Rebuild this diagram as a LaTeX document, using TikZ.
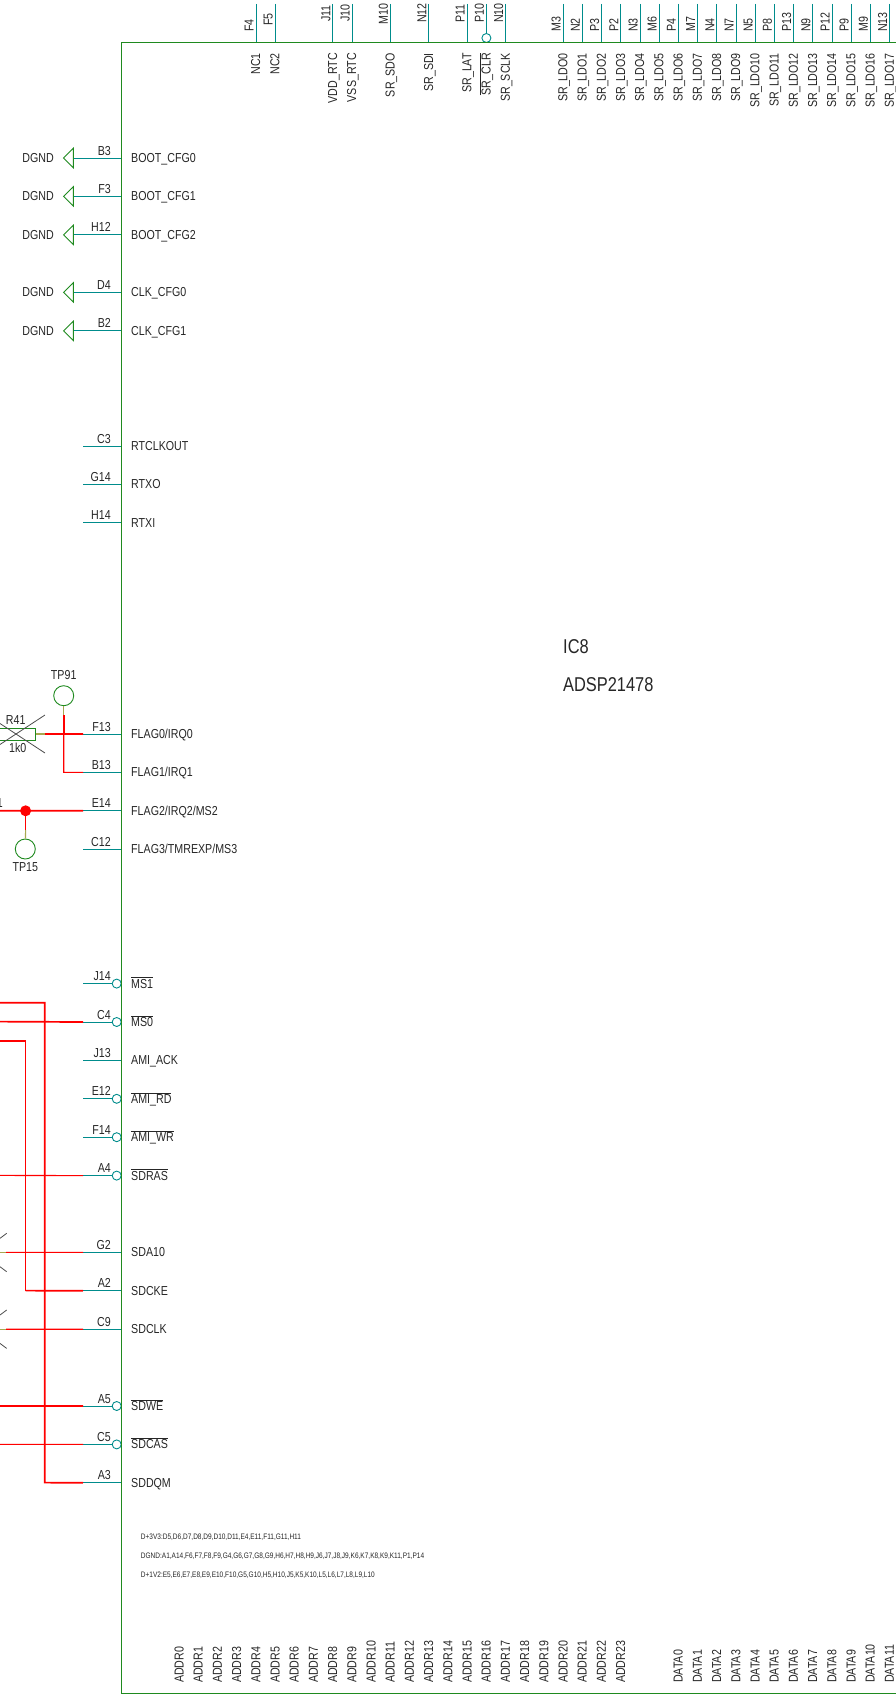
\documentclass[tikz,border=0pt]{standalone}
\usepackage{fontspec}
\setmainfont[FakeStretch=0.82]{Liberation Sans}
\usepackage{xcolor}
\usetikzlibrary{calc}
\definecolor{boxgreen}{HTML}{1F8A1F}
\definecolor{pinteal}{HTML}{008C8C}
\definecolor{wirered}{HTML}{FF0000}
\definecolor{wireolive}{HTML}{A8A850}
\definecolor{txtgrey}{HTML}{262626}
\tikzset{
	pinstub/.style={pinteal,line width=1pt},
	bubble/.style={draw=pinteal,line width=0.9pt,fill=white},
	redthick/.style={wirered,line width=1.7pt},
	redthin/.style={wirered,line width=1.1pt},
	olivewire/.style={wireolive,line width=1.1pt},
	crossout/.style={black!70,line width=0.8pt},
	tiptext/.style={inner sep=0pt,text=txtgrey,font=\fontsize{13}{15}\selectfont},
	notetext/.style={inner sep=0pt,text=txtgrey,anchor=base west,font=\fontsize{7.95}{9}\selectfont},
	chiptext/.style={inner sep=0pt,text=txtgrey,anchor=base west,font=\fontsize{20}{24}\selectfont},
	testpad/.style={draw=boxgreen,line width=0.9pt,fill=white,circle,minimum size=20pt,inner sep=0pt},
	gndflag/.style={draw=boxgreen,line width=0.9pt,line join=miter},
}
\begin{document}
\begin{tikzpicture}[x=1pt,y=-1pt]
	\useasboundingbox (0,0) rectangle (896,1694);
	\clip (0,0) rectangle (896,1694);
	% left side, plain pins
	\foreach \k/\pad/\pinname in {0/B3/BOOT\_CFG0,2/F3/BOOT\_CFG1,4/H12/BOOT\_CFG2,7/D4/CLK\_CFG0,9/B2/CLK\_CFG1,15/C3/RTCLKOUT,17/G14/RTXO,19/H14/RTXI,30/F13/{FLAG0/IRQ0},32/B13/{FLAG1/IRQ1},34/E14/{FLAG2/IRQ2/MS2},36/C12/{FLAG3/TMREXP/MS3},47/J13/AMI\_ACK,57/G2/SDA10,59/A2/SDCKE,61/C9/SDCLK,69/A3/SDDQM}{
		\coordinate (edge\pad) at (121,158+19.2*\k);
		\coordinate (end\pad) at (83,158+19.2*\k);
		\draw[pinstub] (end\pad)--(edge\pad);
		\node[tiptext,anchor=base east] (pad\pad) at (111,155+19.2*\k) {\pad};
		\node[tiptext,anchor=base west] (name\pad) at (131,162.4+19.2*\k) {\pinname};
	}
	% left side, inverted pins
	\foreach \k/\pad/\pinname in {43/J14/MS1,45/C4/MS0,49/E12/AMI\_RD,51/F14/AMI\_WR,53/A4/SDRAS,65/A5/SDWE,67/C5/SDCAS}{
		\coordinate (edge\pad) at (112,158+19.2*\k);
		\coordinate (end\pad) at (83,158+19.2*\k);
		\draw[pinstub] (end\pad)--(edge\pad);
		\node[bubble,circle,minimum size=9pt,inner sep=0pt] (inv\pad) at (116.7,158+19.2*\k) {};
		\node[tiptext,anchor=base east] (pad\pad) at (111,155+19.2*\k) {\pad};
		\node[tiptext,anchor=base west] (name\pad) at (131,162.4+19.2*\k) {$\overline{\mbox{\pinname}}$};
	}
	% top side
	\foreach \k/\pad/\pinname/\padend in {0/F4/NC1/32,1/F5/NC2/26,4/J11/VDD\_RTC/22,5/J10/VSS\_RTC/22,7/M10/SR\_SDO/25,9/N12/SR\_SDI/23,11/P11/SR\_LAT/23,13/N10/SR\_SCLK/23,16/M3/SR\_LDO0/32,17/N2/SR\_LDO1/32,18/P3/SR\_LDO2/32,19/P2/SR\_LDO3/32,20/N3/SR\_LDO4/32,21/M6/SR\_LDO5/32,22/P4/SR\_LDO6/32,23/M7/SR\_LDO7/32,24/N4/SR\_LDO8/32,25/N7/SR\_LDO9/32,26/N5/SR\_LDO10/32,27/P8/SR\_LDO11/32,28/P13/SR\_LDO12/32,29/N9/SR\_LDO13/32,30/P12/SR\_LDO14/32,31/P9/SR\_LDO15/32,32/M9/SR\_LDO16/32,33/N13/SR\_LDO17/32}{
		\coordinate (edge\pad) at (256+19.2*\k,42);
		\coordinate (end\pad) at (256+19.2*\k,4);
		\draw[pinstub] (end\pad)--(edge\pad);
		\node[tiptext,rotate=90,anchor=base west] (pad\pad) at (253.5+19.2*\k,\padend) {\pad};
		\node[tiptext,rotate=90,anchor=base east] (name\pad) at (260.2+19.2*\k,53) {\pinname};
	}
	\coordinate (endP10) at (486.4,4);
	\coordinate (edgeP10) at (486.4,33);
	\draw[pinstub] (endP10)--(edgeP10);
	\node[bubble,circle,minimum size=9pt,inner sep=0pt] (invP10) at (486.4,38) {};
	\node[tiptext,rotate=90,anchor=base west] (padP10) at (483.9,23) {P10};
	\node[tiptext,rotate=90,anchor=base east] (nameP10) at (490.6,53) {$\overline{\mbox{SR\_CLR}}$};
	% bottom side
	\foreach \k/\txt in {0/ADDR0,1/ADDR1,2/ADDR2,3/ADDR3,4/ADDR4,5/ADDR5,6/ADDR6,7/ADDR7,8/ADDR8,9/ADDR9,10/ADDR10,11/ADDR11,12/ADDR12,13/ADDR13,14/ADDR14,15/ADDR15,16/ADDR16,17/ADDR17,18/ADDR18,19/ADDR19,20/ADDR20,21/ADDR21,22/ADDR22,23/ADDR23,26/DATA0,27/DATA1,28/DATA2,29/DATA3,30/DATA4,31/DATA5,32/DATA6,33/DATA7,34/DATA8,35/DATA9,36/DATA10,37/DATA11}{
		\coordinate (tick\txt) at (179.2+19.2*\k,1693);
		\coordinate (tickend\txt) at (179.2+19.2*\k,1700);
		\draw[pinstub] (tick\txt)--(tickend\txt);
		\node[tiptext,rotate=90,anchor=base west] (name\txt) at (183.5+19.2*\k,1683) {\txt};
	}
	% chip outline
	\coordinate (boxtr) at (900,42.5);
	\coordinate (boxtl) at (121.5,42.5);
	\coordinate (boxbl) at (121.5,1693);
	\coordinate (boxbr) at (900,1693);
	\draw[boxgreen,line width=1pt] (boxtr)--(boxtl)--(boxbl)--(boxbr);
	\node[chiptext] (ic) at (563,653) {IC8};
	\node[chiptext] (part) at (563,691) {ADSP21478};
	\node[notetext] (note3v3) at (140.7,1539) {D+3V3:D5,D6,D7,D8,D9,D10,D11,E4,E11,F11,G11,H11};
	\node[notetext] (notegnd) at (140.7,1558) {DGND:A1,A14,F6,F7,F8,F9,G4,G6,G7,G8,G9,H6,H7,H8,H9,J6,J7,J8,J9,K6,K7,K8,K9,K11,P1,P14};
	\node[notetext] (note1v2) at (140.7,1577) {D+1V2:E5,E6,E7,E8,E9,E10,F10,G5,G10,H5,H10,J5,K5,K10,L5,L6,L7,L8,L9,L10};
	% ground flags
	\foreach \pad in {B3,F3,H12,D4,B2}{
		\coordinate (flag\pad) at ($(end\pad)+(-9.7,0)$);
		\draw[pinstub] (end\pad)--(flag\pad);
		\draw[gndflag] ($(flag\pad)+(0,-9.7)$)--($(flag\pad)+(-9.7,0)$)--($(flag\pad)+(0,9.7)$)--cycle;
		\node[tiptext,anchor=base east] (gnd\pad) at ($(end\pad)+(-29,4.4)$) {DGND};
	}
	% test points and flag wires
	\node[testpad] (tp91) at (63.7,695.7) {};
	\node[tiptext] (tp91txt) at (63.7,675) {TP91};
	\node[testpad] (tp15) at (25.3,849) {};
	\node[tiptext] (tp15txt) at (25.3,867) {TP15};
	\coordinate (rend) at (35,734);
	\coordinate (wireF) at (45,734);
	\coordinate (stubTP91) at (63.7,715);
	\coordinate (crossF13) at (63.7,734);
	\coordinate (cornerB13) at (63.7,772.4);
	\coordinate (inE14) at (0,810.8);
	\coordinate (dotE14) at (25.6,810.8);
	\coordinate (stubTP15) at (25.6,830);
	\draw[olivewire] (rend)--(wireF);
	\draw[olivewire] (tp91)--(stubTP91);
	\draw[redthick] (wireF)--(endF13);
	\draw[redthick] (stubTP91)--(crossF13);
	\draw[redthin] (crossF13)--(cornerB13)--(endB13);
	\draw[redthick] (inE14)--(endE14);
	\fill[wirered] (dotE14) circle (5.5);
	\draw[redthin] (dotE14)--(stubTP15);
	\draw[olivewire] (stubTP15)--(tp15);
	\node[tiptext,anchor=base east] (cut1) at (3,807.5) {1};
	% R41
	\draw[boxgreen,line width=0.9pt] (-10,728) rectangle (35,740);
	\node[tiptext] (r41) at (15.7,720) {R41};
	\node[tiptext] (r41val) at (17.7,747.7) {1k0};
	\draw[crossout] (-13,753)--(45,715);
	\draw[crossout] (-13,715)--(45,753);
	% bus wires to the left
	\foreach \pad/\yy/\wstyle in {C4/1021.6/redthick,A4/1175.4/redthin,A5/1406/redthick,C5/1444.4/redthin}{
		\coordinate (in\pad) at (0,\yy);
		\draw[\wstyle] (in\pad)--(end\pad);
	}
	\coordinate (inA3) at (0,1002.7);
	\coordinate (cornerA3) at (44.7,1002.7);
	\coordinate (lowA3) at (44.7,1482.6);
	\draw[redthick] (inA3)--(cornerA3)--(lowA3)--(endA3);
	\coordinate (inA2) at (0,1041);
	\coordinate (cornerA2) at (25.7,1041);
	\coordinate (lowA2) at (25.7,1290.6);
	\draw[redthin] (inA2)--(cornerA2)--(lowA2);
	\draw[redthick] (lowA2)--(endA2);
	\coordinate (inG2) at (0,1252.4);
	\coordinate (wireG2) at (6,1252.4);
	\draw[olivewire] (inG2)--(wireG2);
	\draw[redthin] (wireG2)--(endG2);
	\coordinate (inC9) at (0,1329.2);
	\coordinate (wireC9) at (6,1329.2);
	\draw[olivewire] (inC9)--(wireC9);
	\draw[redthin] (wireC9)--(endC9);
	\draw[crossout] (0,1238.3)--(6.7,1233.3);
	\draw[crossout] (0,1266.7)--(6.7,1271.7);
	\draw[crossout] (0,1315)--(6.7,1310);
	\draw[crossout] (0,1343.4)--(6.7,1348.4);
\end{tikzpicture}
\end{document}
